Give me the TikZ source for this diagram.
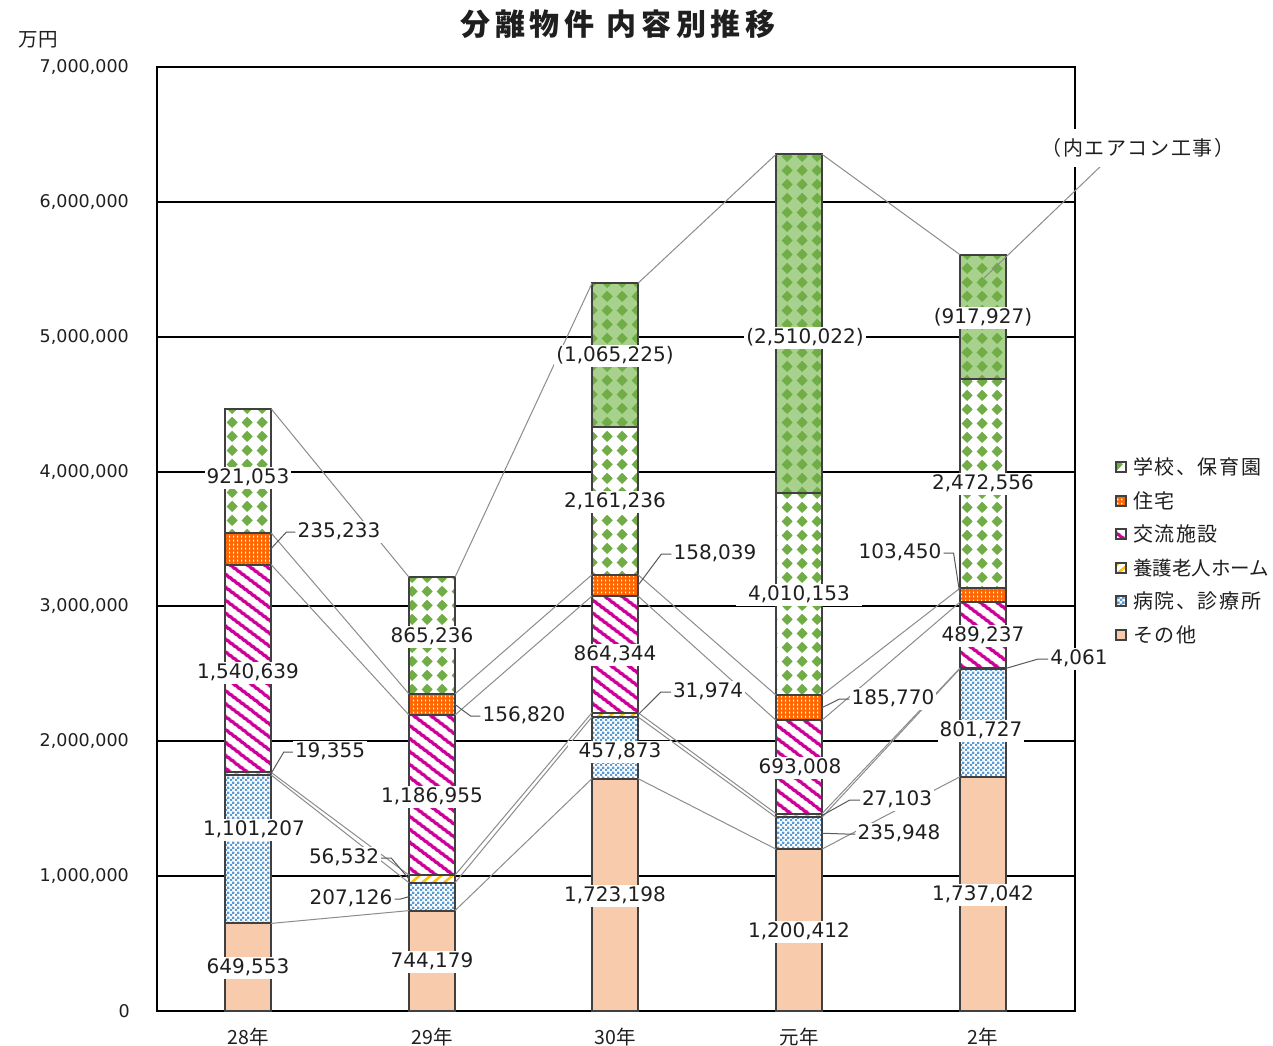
\documentclass[tikz,border=0pt]{standalone}
\usepackage{fontspec}
\usetikzlibrary{patterns,patterns.meta}
\newfontfamily\numfont{DejaVu Sans}
\newfontfamily\jpfont{Noto Sans CJK JP}
\newfontfamily\jpleg{Noto Sans CJK JP}[LetterSpace=8]
\newfontfamily\jptitle{Noto Sans CJK JP}[LetterSpace=16]
\newcommand\myNum{\numfont\fontsize{20}{24}\selectfont}
\newcommand\myTick{\numfont\fontsize{17.5}{21}\selectfont}
\newcommand\myCat{\jpfont\fontsize{19.5}{23}\selectfont}
\newcommand\myLeg{\jpleg\fontsize{20}{24}\selectfont}
\newcommand\myLegN{\jpfont\fontsize{19.5}{24}\selectfont}
\newcommand\myTitle{\jptitle\bfseries\fontsize{30}{36}\selectfont}
\definecolor{grn}{HTML}{70AD47}
\definecolor{lgrn}{HTML}{A9D18E}
\definecolor{org}{HTML}{FF6600}
\definecolor{mag}{HTML}{CC0099}
\definecolor{yel}{HTML}{FFC000}
\definecolor{blu}{HTML}{5B9BD5}
\definecolor{pch}{HTML}{F8CBAD}
\definecolor{barln}{HTML}{404040}
\definecolor{sergray}{HTML}{8C8C8C}
\definecolor{leadgray}{HTML}{595959}
\definecolor{txt}{HTML}{1F1F1F}
\pgfdeclarepattern{
  name=schsphere,
  type=uncolored,
  bottom left={\pgfpoint{0pt}{0pt}},
  top right={\pgfpoint{15pt}{14pt}},
  tile size={\pgfpoint{15pt}{14pt}},
  code={
    \pgfpathcircle{\pgfpoint{7.5pt}{7pt}}{4.1pt}
    \pgfusepath{fill}
    \pgfpathmoveto{\pgfpoint{7.5pt}{1.0pt}}
    \pgfpathlineto{\pgfpoint{13.3pt}{7pt}}
    \pgfpathlineto{\pgfpoint{7.5pt}{13.0pt}}
    \pgfpathlineto{\pgfpoint{1.7pt}{7pt}}
    \pgfpathclose
    \pgfusepath{fill}
  }
}
\pgfdeclarepattern{
  name=dashgrid,
  type=uncolored,
  bottom left={\pgfpoint{0pt}{0pt}},
  top right={\pgfpoint{4pt}{4pt}},
  tile size={\pgfpoint{4pt}{4pt}},
  code={
    \pgfpathrectangle{\pgfpoint{1.3pt}{0.6pt}}{\pgfpoint{1.3pt}{2.2pt}}
    \pgfusepath{fill}
  }
}
\pgfdeclarepattern{
  name=checkblue,
  type=uncolored,
  bottom left={\pgfpoint{0pt}{0pt}},
  top right={\pgfpoint{5pt}{5pt}},
  tile size={\pgfpoint{5pt}{5pt}},
  code={
    \pgfpathrectangle{\pgfpoint{0pt}{0pt}}{\pgfpoint{2.6pt}{2.6pt}}
    \pgfpathrectangle{\pgfpoint{2.5pt}{2.5pt}}{\pgfpoint{2.6pt}{2.6pt}}
    \pgfusepath{fill}
  }
}
% #1 name, #2 left x, #3 bottom y, #4 top y, #5 style
\newcommand\barseg[5]{%
  \path[#5] (#2,#3) rectangle (#2+46,#4);
  \draw[barout] (#2,#3) rectangle (#2+46,#4);
  \coordinate (#1-tl) at (#2,#4);
  \coordinate (#1-tr) at (#2+46,#4);
  \coordinate (#1-ml) at (#2,{(#3+#4)/2});
  \coordinate (#1-mr) at (#2+46,{(#3+#4)/2});
}
% legend marker: #1 y centre, #2 style
\newcommand\legmark[2]{%
  \path[#2] (1116,#1-5) rectangle (1126,#1+5);
  \draw[barln, line width=1.2pt] (1116,#1-5) rectangle (1126,#1+5);
}
\begin{document}
\begin{tikzpicture}[x=1pt,y=-1pt,
  lbl/.style={fill=white, inner xsep=2pt, inner ysep=1.5pt, text height=14.6pt, text depth=4pt, font=\myNum, text=txt},
  ticklbl/.style={anchor=east, font=\myTick, text=txt, inner sep=0pt},
  catlbl/.style={font=\myCat, text=txt, inner sep=0pt},
  legtxt/.style={anchor=west, font=\myLeg, text=txt, inner sep=0pt},
  leader/.style={draw=leadgray, line width=1pt},
  serline/.style={draw=sergray, line width=1pt},
  gridln/.style={draw=black, line width=2pt},
  barout/.style={draw=barln, line width=2pt},
  othseg/.style={fill=pch},
  hospseg/.style={fill=white, postaction={pattern=checkblue, pattern color=blu}},
  yogoseg/.style={fill=white, postaction={pattern={Lines[angle=40,distance=7pt,line width=2.5pt]}, pattern color=yel}},
  kouseg/.style={fill=white, postaction={pattern={Lines[angle=-37,distance=10.5pt,line width=3.8pt]}, pattern color=mag}},
  housseg/.style={fill=org, postaction={pattern=dashgrid, pattern color=white}},
  schseg/.style={fill=white, postaction={pattern=schsphere, pattern color=grn}},
  airseg/.style={fill=lgrn, postaction={pattern=schsphere, pattern color=grn}},
]
\useasboundingbox[fill=white] (0,0) rectangle (1273,1045);

% title and unit
\node[font=\myTitle, text=txt, inner sep=0pt] (title) at (618,24) {分離物件 内容別推移};
\node[font=\myCat, text=txt, inner sep=0pt] (unit) at (38,40) {万円};

% gridlines and frame
\foreach \v in {1,...,6} {\draw[gridln] (157,{1011-\v*134.857}) -- (1075,{1011-\v*134.857});}
\draw[gridln] (157,67) rectangle (1075,1011);

% tick labels
\node[ticklbl] (t0) at (130,1011) {0};
\node[ticklbl] (t1) at (129,876.1) {1,000,000};
\node[ticklbl] (t2) at (129,741.3) {2,000,000};
\node[ticklbl] (t3) at (129,606.4) {3,000,000};
\node[ticklbl] (t4) at (129,471.6) {4,000,000};
\node[ticklbl] (t5) at (129,336.7) {5,000,000};
\node[ticklbl] (t6) at (129,201.9) {6,000,000};
\node[ticklbl] (t7) at (129,67) {7,000,000};

% bars
\barseg{b1s1}{225}{1011}{923.4}{othseg}
\barseg{b1s2}{225}{923.4}{774.9}{hospseg}
\barseg{b1s3}{225}{774.9}{772.3}{yogoseg}
\barseg{b1s4}{225}{772.3}{564.5}{kouseg}
\barseg{b1s5}{225}{564.5}{532.8}{housseg}
\barseg{b1s6}{225}{532.8}{408.6}{schseg}

\barseg{b2s1}{409}{1011}{910.6}{othseg}
\barseg{b2s2}{409}{910.6}{882.7}{hospseg}
\barseg{b2s3}{409}{882.7}{875.1}{yogoseg}
\barseg{b2s4}{409}{875.1}{715.0}{kouseg}
\barseg{b2s5}{409}{715.0}{693.9}{housseg}
\barseg{b2s6}{409}{693.9}{577.2}{schseg}

\barseg{b3s1}{592}{1011}{778.6}{othseg}
\barseg{b3s2}{592}{778.6}{716.9}{hospseg}
\barseg{b3s3}{592}{716.9}{712.6}{yogoseg}
\barseg{b3s4}{592}{712.6}{596.0}{kouseg}
\barseg{b3s5}{592}{596.0}{574.7}{housseg}
\barseg{b3s6}{592}{574.7}{426.9}{schseg}
\barseg{b3s7}{592}{426.9}{283.2}{airseg}

\barseg{b4s1}{776}{1011}{849.1}{othseg}
\barseg{b4s2}{776}{849.1}{817.3}{hospseg}
\barseg{b4s3}{776}{817.3}{813.6}{yogoseg}
\barseg{b4s4}{776}{813.6}{720.2}{kouseg}
\barseg{b4s5}{776}{720.2}{695.1}{housseg}
\barseg{b4s6}{776}{695.1}{492.8}{schseg}
\barseg{b4s7}{776}{492.8}{154.3}{airseg}

\barseg{b5s1}{960}{1011}{776.7}{othseg}
\barseg{b5s2}{960}{776.7}{668.6}{hospseg}
\barseg{b5s3}{960}{668.6}{668.1}{yogoseg}
\barseg{b5s4}{960}{668.1}{602.1}{kouseg}
\barseg{b5s5}{960}{602.1}{588.2}{housseg}
\barseg{b5s6}{960}{588.2}{378.5}{schseg}
\barseg{b5s7}{960}{378.5}{254.7}{airseg}

% series lines
\foreach \a/\b in {b1/b2,b2/b3,b3/b4,b4/b5} {
  \foreach \k in {1,...,5} {\draw[serline] (\a s\k-tr) -- (\b s\k-tl);}
}
\draw[serline] (b1s6-tr) -- (b2s6-tl);
\draw[serline] (b2s6-tr) -- (b3s7-tl);
\draw[serline] (b3s7-tr) -- (b4s7-tl);
\draw[serline] (b4s7-tr) -- (b5s7-tl);

% callout
\coordinate (callpt) at (984,278);
\coordinate (callst) at (1103,164);
\draw[serline] (callst) -- (callpt);
\node[fill=white, inner xsep=2pt, inner ysep=9pt, font=\myLeg, text=txt] (aircon) at (1138,148) {（内エアコン工事）};

% data labels
\node[lbl] (L11) at (248,968) {649,553};
\node[lbl] (L12) at (254,830) {1,101,207};
\node[lbl] (L13) at (330,752) {19,355};
\node[lbl] (L14) at (248,673) {1,540,639};
\node[lbl] (L15) at (339,532) {235,233};
\node[lbl] (L16) at (248,478) {921,053};

\node[lbl] (L21) at (432,962) {744,179};
\node[lbl] (L22) at (351,899) {207,126};
\node[lbl] (L23) at (344,858) {56,532};
\node[lbl] (L24) at (432,797) {1,186,955};
\node[lbl] (L25) at (524,716) {156,820};
\node[lbl] (L26) at (432,637) {865,236};

\node[lbl] (L31) at (615,896) {1,723,198};
\node[lbl, inner xsep=11pt] (L32) at (620,752) {457,873};
\node[lbl] (L33) at (708,692) {31,974};
\node[lbl] (L34) at (615,655) {864,344};
\node[lbl] (L35) at (715,554) {158,039};
\node[lbl] (L36) at (615,502) {2,161,236};
\node[lbl] (L37) at (615,356) {(1,065,225)};

\node[lbl] (L41) at (799,932) {1,200,412};
\node[lbl] (L42) at (899,834) {235,948};
\node[lbl] (L43) at (897,800) {27,103};
\node[lbl] (L44) at (800,768) {693,008};
\node[lbl] (L45) at (893,699) {185,770};
\node[lbl, inner xsep=12pt] (L46) at (799,595) {4,010,153};
\node[lbl] (L47) at (805,338) {(2,510,022)};

\node[lbl] (L51) at (983,895) {1,737,042};
\node[lbl] (L52) at (981,731) {801,727};
\node[lbl] (L53) at (1079,659) {4,061};
\node[lbl] (L54) at (983,636) {489,237};
\node[lbl] (L55) at (900,553) {103,450};
\node[lbl] (L56) at (983,484) {2,472,556};
\node[lbl] (L57) at (983,318) {(917,927)};

% leaders
\draw[leader] (L15.west) -- ++(-9,0) -- (b1s5-mr);
\draw[leader] (L13.west) -- ++(-9,0) -- (b1s3-mr);
\draw[leader] (L25.west) -- ++(-10,0) -- (b2s5-mr);
\draw[leader] (L23.east) -- ++(10,0) -- (b2s3-ml);
\draw[leader] (L22.east) -- ++(6,0) -- (b2s2-ml);
\draw[leader] (L35.west) -- ++(-10,0) -- (b3s5-mr);
\draw[leader] (L33.west) -- ++(-10,0) -- (b3s3-mr);
\draw[leader] (L45.west) -- ++(-10,0) -- (b4s5-mr);
\draw[leader] (L43.west) -- ++(-10,0) -- (b4s3-mr);
\draw[leader] (L42.west) -- ++(-10,0) -- (b4s2-mr);
\draw[leader] (L55.east) -- ++(10,0) -- (b5s5-ml);
\draw[leader] (L53.west) -- ++(-10,0) -- (b5s3-mr);

% category labels
\node[catlbl] (c1) at (248,1037) {28年};
\node[catlbl] (c2) at (432,1037) {29年};
\node[catlbl] (c3) at (615,1037) {30年};
\node[catlbl] (c4) at (799,1037) {元年};
\node[catlbl] (c5) at (983,1037) {2年};

% legend
\legmark{467}{schseg}
\legmark{501}{housseg}
\legmark{534}{kouseg}
\legmark{568}{yogoseg}
\legmark{601}{hospseg}
\legmark{635}{othseg}
\node[legtxt] (g1) at (1133,467) {学校、保育園};
\node[legtxt] (g2) at (1133,501) {住宅};
\node[legtxt] (g3) at (1133,534) {交流施設};
\node[legtxt, font=\myLegN] (g4) at (1133,568) {養護老人ホーム};
\node[legtxt] (g5) at (1133,601) {病院、診療所};
\node[legtxt] (g6) at (1133,635) {その他};
\end{tikzpicture}
\end{document}
